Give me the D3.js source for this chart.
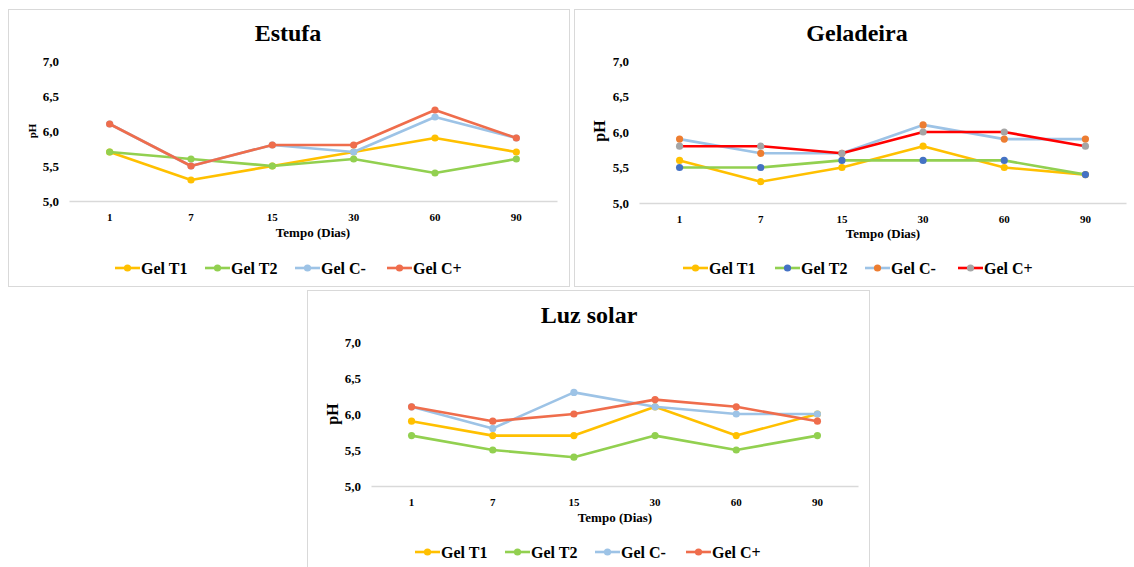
<!DOCTYPE html>
<html>
<head>
<meta charset="utf-8">
<script src="https://cdn.jsdelivr.net/npm/d3@7"></script>
<style>
  html, body { margin: 0; padding: 0; background: #fff; }
  svg { display: block; font-family: "Liberation Serif", "Times New Roman", serif; }
</style>
</head>
<body>
<svg id="chart" width="1134" height="567"></svg>
<script>
// Sampling days and pH axis ticks
const days = ["1", "7", "15", "30", "60", "90"];
const phTicks = [5.0, 5.5, 6.0, 6.5, 7.0];
const seriesNames = ["Gel T1", "Gel T2", "Gel C-", "Gel C+"];

// pH readings — stove (Estufa)
const estufaT1 = [5.7, 5.3, 5.5, 5.7, 5.9, 5.7];
const estufaT2 = [5.7, 5.6, 5.5, 5.6, 5.4, 5.6];
const estufaCneg = [6.1, 5.5, 5.8, 5.7, 6.2, 5.9];
const estufaCpos = [6.1, 5.5, 5.8, 5.8, 6.3, 5.9];

// pH readings — refrigerator (Geladeira)
const geladeiraT1 = [5.6, 5.3, 5.5, 5.8, 5.5, 5.4];
const geladeiraT2 = [5.5, 5.5, 5.6, 5.6, 5.6, 5.4];
const geladeiraCneg = [5.9, 5.7, 5.7, 6.1, 5.9, 5.9];
const geladeiraCpos = [5.8, 5.8, 5.7, 6.0, 6.0, 5.8];

// pH readings — sunlight (Luz solar)
const luzT1 = [5.9, 5.7, 5.7, 6.1, 5.7, 6.0];
const luzT2 = [5.7, 5.5, 5.4, 5.7, 5.5, 5.7];
const luzCneg = [6.1, 5.8, 6.3, 6.1, 6.0, 6.0];
const luzCpos = [6.1, 5.9, 6.0, 6.2, 6.1, 5.9];

// Colours
const YELLOW = "#FFC000", GREEN = "#92D050", LIGHTBLUE = "#9DC3E6",
      CORAL = "#EF6D4C", BLUE = "#4472C4", ORANGE = "#ED7D31",
      RED = "#FF0000", GREY = "#A5A5A5";

const panels = [
  {
    title: "Estufa",
    values: [estufaT1, estufaT2, estufaCneg, estufaCpos],
    lineColors: [YELLOW, GREEN, LIGHTBLUE, CORAL],
    markColors: [YELLOW, GREEN, LIGHTBLUE, CORAL],
    box: { x: 8.5, y: 9.5, w: 561, h: 277 },
    plot: { x0: 69, x1: 557, yTop: 61, yBottom: 201 },
    titleY: 41, titleX: 288,
    phLabel: { x: 36, y: 131, size: 11 },
    xTitle: { x: 313, y: 237 },
    legend: { y: 268, starts: [115, 205, 295, 387] }
  },
  {
    title: "Geladeira",
    values: [geladeiraT1, geladeiraT2, geladeiraCneg, geladeiraCpos],
    lineColors: [YELLOW, GREEN, LIGHTBLUE, RED],
    markColors: [YELLOW, BLUE, ORANGE, GREY],
    box: { x: 574.5, y: 9.5, w: 562, h: 277 },
    plot: { x0: 639, x1: 1126, yTop: 61, yBottom: 203 },
    titleY: 41, titleX: 857,
    phLabel: { x: 605, y: 131, size: 16 },
    xTitle: { x: 883, y: 238 },
    legend: { y: 268, starts: [683, 775, 865, 958] }
  },
  {
    title: "Luz solar",
    values: [luzT1, luzT2, luzCneg, luzCpos],
    lineColors: [YELLOW, GREEN, LIGHTBLUE, CORAL],
    markColors: [YELLOW, GREEN, LIGHTBLUE, CORAL],
    box: { x: 307.5, y: 290.5, w: 562, h: 285 },
    plot: { x0: 371, x1: 858, yTop: 342, yBottom: 486 },
    titleY: 323, titleX: 589,
    phLabel: { x: 338, y: 414, size: 16 },
    xTitle: { x: 615, y: 522 },
    legend: { y: 552, starts: [415, 505, 595, 686] }
  }
];

const svg = d3.select("#chart");

panels.forEach(p => {
  const g = svg.append("g");

  // panel frame
  g.append("rect")
    .attr("x", p.box.x).attr("y", p.box.y)
    .attr("width", p.box.w).attr("height", p.box.h)
    .attr("fill", "#fff").attr("stroke", "#D9D9D9").attr("stroke-width", 1);

  const x = d3.scaleBand().domain(days).range([p.plot.x0, p.plot.x1]);
  const y = d3.scaleLinear().domain([5.0, 7.0]).range([p.plot.yBottom, p.plot.yTop]);

  // title
  g.append("text")
    .attr("x", p.titleX).attr("y", p.titleY)
    .attr("text-anchor", "middle")
    .attr("font-size", 24).attr("font-weight", "bold").attr("fill", "#000")
    .text(p.title);

  // y axis (labels only)
  const yAxis = d3.axisLeft(y).tickValues(phTicks).tickSize(0).tickPadding(10)
    .tickFormat(d => d3.format(".1f")(d).replace(".", ","));
  const ya = g.append("g").attr("transform", `translate(${p.plot.x0},0)`).call(yAxis);
  ya.select(".domain").remove();
  ya.selectAll("text")
    .attr("font-family", "Liberation Serif, serif")
    .attr("font-size", 13).attr("font-weight", "bold").attr("fill", "#000");

  // x axis: baseline plus day labels
  const xAxis = d3.axisBottom(x).tickSize(0).tickPadding(12);
  const xa = g.append("g").attr("transform", `translate(0,${p.plot.yBottom})`).call(xAxis);
  xa.select(".domain").attr("stroke", "#D9D9D9").attr("stroke-width", 1.3);
  xa.selectAll("text")
    .attr("font-family", "Liberation Serif, serif")
    .attr("font-size", 11).attr("font-weight", "bold").attr("fill", "#000");

  // axis titles
  g.append("text")
    .attr("transform", `translate(${p.phLabel.x},${p.phLabel.y}) rotate(-90)`)
    .attr("text-anchor", "middle")
    .attr("font-size", p.phLabel.size).attr("font-weight", "bold")
    .text("pH");
  g.append("text")
    .attr("x", p.xTitle.x).attr("y", p.xTitle.y)
    .attr("text-anchor", "middle")
    .attr("font-size", 13).attr("font-weight", "bold")
    .text("Tempo (Dias)");

  const line = d3.line()
    .x((d, i) => x(days[i]) + x.bandwidth() / 2)
    .y(d => y(d));

  // series lines, then markers on top
  p.values.forEach((vals, si) => {
    g.append("path")
      .datum(vals)
      .attr("d", line)
      .attr("fill", "none")
      .attr("stroke", p.lineColors[si])
      .attr("stroke-width", 2.6)
      .attr("stroke-linejoin", "round");
    g.selectAll(null)
      .data(vals)
      .join("circle")
      .attr("cx", (d, i) => x(days[i]) + x.bandwidth() / 2)
      .attr("cy", d => y(d))
      .attr("r", 3.6)
      .attr("fill", p.markColors[si]);
  });

  // legend
  seriesNames.forEach((name, si) => {
    const lx = p.legend.starts[si];
    const ly = p.legend.y;
    g.append("line")
      .attr("x1", lx).attr("x2", lx + 25)
      .attr("y1", ly).attr("y2", ly)
      .attr("stroke", p.lineColors[si]).attr("stroke-width", 2.6);
    g.append("circle")
      .attr("cx", lx + 12.5).attr("cy", ly).attr("r", 3.6)
      .attr("fill", p.markColors[si]);
    g.append("text")
      .attr("x", lx + 26).attr("y", ly + 5.5)
      .attr("font-size", 16).attr("font-weight", "bold")
      .text(name);
  });
});
</script>
</body>
</html>
